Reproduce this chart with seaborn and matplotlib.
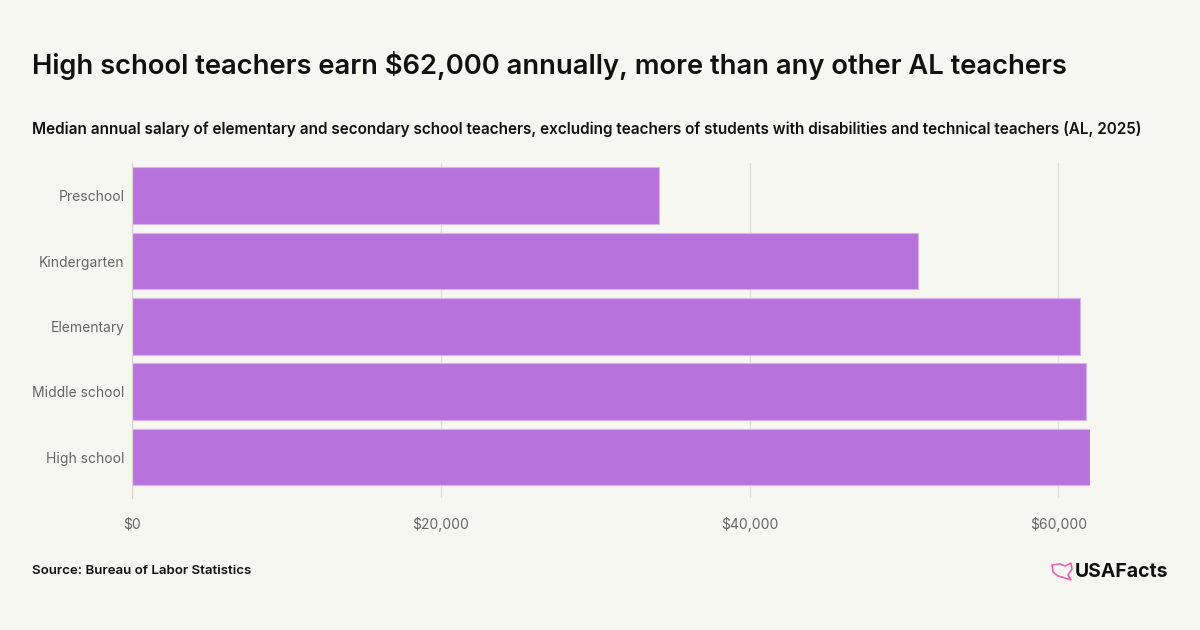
import matplotlib
matplotlib.use("Agg")
import matplotlib.pyplot as plt
import seaborn as sns
import pandas as pd
from matplotlib.ticker import FuncFormatter
from matplotlib.patches import Polygon

categories = ["Preschool", "Kindergarten", "Elementary", "Middle school", "High school"]
salaries = [34110, 50900, 61400, 61780, 62040]
x_ticks = [0, 20000, 40000, 60000]

bg = "#F7F7F2"
bar_color = "#B872DC"

df = pd.DataFrame({"level": categories, "salary": salaries})

sns.set_theme(style="white")
plt.rcParams["font.family"] = ["Inter", "DejaVu Sans"]

fig = plt.figure(figsize=(12, 6.3), dpi=100, facecolor=bg)
ax = fig.add_axes((132 / 1200, 1 - 498 / 630, 958 / 1200, 335 / 630))
ax.set_facecolor(bg)

sns.barplot(data=df, x="salary", y="level", color=bar_color, width=0.87,
            saturation=1, ax=ax, zorder=2, edgecolor="#D9B3EE", linewidth=0.8)

ax.set_xlim(0, 62040)
ax.set_ylim(4.5 + 0.127, -0.5)
ax.set_xticks(x_ticks)
ax.xaxis.set_major_formatter(FuncFormatter(lambda v, p: f"${v:,.0f}"))
ax.grid(axis="x", color="#DDDDDA", linewidth=0.9, zorder=0)
ax.grid(axis="y", visible=False)
for s in ["top", "right", "bottom"]:
    ax.spines[s].set_visible(False)
ax.spines["left"].set_color("#D6D6D2")
ax.spines["left"].set_linewidth(0.9)
ax.tick_params(axis="x", length=0, pad=14, labelsize=10, labelcolor="#666666")
ax.tick_params(axis="y", length=0, pad=5.5, labelsize=10, labelcolor="#666666")
ax.set_xlabel("")
ax.set_ylabel("")

fig.text(32 / 1200, 1 - 66 / 630, "High school teachers earn $62,000 annually, more than any other AL teachers",
         fontsize=19.7, fontweight="semibold", color="#111111", va="center", ha="left")
fig.text(32 / 1200, 1 - 129 / 630,
         "Median annual salary of elementary and secondary school teachers, excluding teachers of students with disabilities and technical teachers (AL, 2025)",
         fontsize=11, fontweight="semibold", color="#111111", va="center", ha="left")
fig.text(32 / 1200, 1 - 571 / 630, "Source: Bureau of Labor Statistics",
         fontsize=9.6, fontweight="semibold", color="#111111", va="center", ha="left")
fig.text(1168 / 1200, 1 - 572 / 630, "USAFacts", fontsize=14, fontweight="bold",
         color="#111111", va="center", ha="right")

# small pink map-like mark next to the logo text
pts = [(1052, 565), (1060, 564), (1065, 566), (1071, 563), (1072, 569),
       (1068, 575), (1071, 580), (1065, 578), (1058, 576), (1053, 572)]
logo = Polygon([(x / 1200, 1 - y / 630) for x, y in pts], closed=True,
               fill=False, edgecolor="#F060B0", linewidth=1.2, transform=fig.transFigure)
fig.add_artist(logo)

fig.savefig("out.png", dpi=100, facecolor=bg)
